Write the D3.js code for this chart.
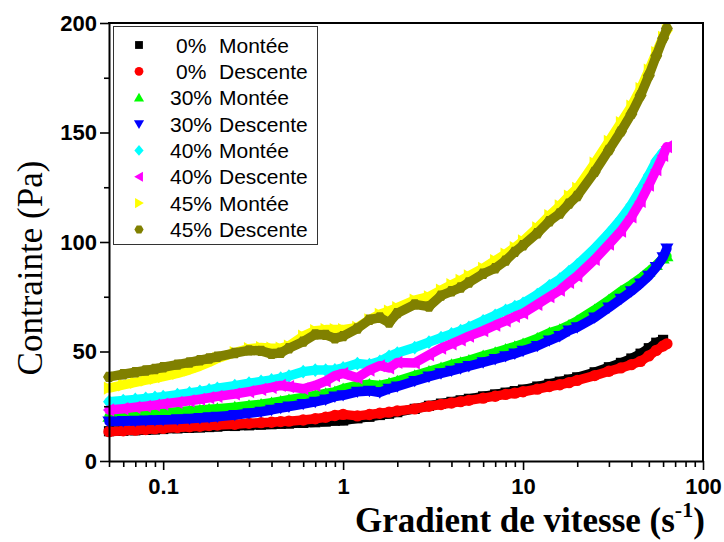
<!DOCTYPE html>
<html>
<head>
<meta charset="utf-8">
<script src="https://cdn.jsdelivr.net/npm/d3@7"></script>
<style>
  html, body { margin: 0; padding: 0; background: #ffffff; }
  svg { display: block; }
</style>
</head>
<body>
<svg id="chart" width="724" height="542"></svg>
<script>
// ---------------- DATA ----------------
// Gradient de vitesse (s-1)
const shear = [0.05,0.06,0.07,0.08,0.09,0.1,0.12,0.14,0.16,0.18,
  0.2,0.25,0.3,0.35,0.4,0.45, 0.5,0.6,0.7,0.8,0.9, 1,1.2,1.4,1.6,1.8,
  2,2.5,3,3.5,4,4.5, 5,6,7,8,9, 10,12,14,16,18, 20,25,30,35,40,45, 50,55,60,63];

// Contrainte (Pa)
const stress0Montee = [13.6,13.8,14.0,14.2,14.4,14.6,14.9,15.1,15.3,15.5,
  15.7,16.0,16.3,16.6,16.8,17.0, 17.1,17.4,17.7,18.0,18.4, 18.5,19.5,20.2,21.0,21.6,
  22.3,23.8,25.2,26.2,27.0,27.7, 28.4,29.5,30.4,31.2,31.9, 32.6,34.0,35.2,36.2,37.2,
  38.2,40.5,42.8,44.8,46.8,49.0, 51.5,54.0,55.3,null];
const stress0Descente = [13.4,13.8,14.1,14.4,14.7,14.9,15.3,15.6,15.9,16.2,
  16.4,16.8,17.2,17.5,17.7,18.0, 18.2,18.7,19.3,20.0,20.8, 21.3,20.6,21.2,21.8,22.3,
  22.8,23.8,25.0,25.8,26.5,27.1, 27.7,28.7,29.6,30.4,31.0, 31.6,32.8,34.0,34.8,35.8,
  36.8,39.0,41.0,42.5,44.0,45.5, 48.0,50.5,52.5,53.5];
const stress30Montee = [20.2,20.6,21.0,21.4,21.7,22.0,22.5,22.9,23.3,23.6,
  23.9,24.6,25.3,25.9,26.6,27.3, 28.0,29.0,30.0,30.8,31.6, 33.0,34.5,35.0,34.5,35.5,
  36.5,39.0,41.0,42.5,44.0,45.0, 46.0,48.0,49.5,51.0,52.3, 53.5,56.0,58.5,60.0,62.0,
  64.0,69.0,73.5,77.5,80.5,83.5, 86.5,89.5,92.5,93.5];
const stress30Descente = [18.0,18.2,18.3,18.5,18.6,18.7,19.0,19.3,19.6,19.9,
  20.2,21.0,21.8,22.5,23.3,24.2, 24.8,26.0,27.0,28.0,29.4, 30.0,31.6,32.0,31.3,33.0,
  34.0,36.5,38.5,40.0,41.2,42.3, 43.3,45.0,46.5,47.8,49.0, 50.3,52.5,55.0,57.0,59.5,
  61.0,65.5,70.0,74.0,77.5,81.0, 84.5,88.5,93.0,97.0];
const stress40Montee = [27.1,27.6,28.1,28.6,29.0,29.4,30.3,31.1,31.8,32.5,
  33.2,34.4,35.5,36.3,37.0,37.8, 38.8,40.8,41.5,41.5,41.6, 42.5,44.5,44.0,45.5,47.8,
  49.3,51.8,54.3,56.3,58.0,59.5, 61.0,64.0,66.5,68.8,70.5, 72.0,76.0,80.0,83.0,86.5,
  89.5,97.0,104.0,110.5,117.0,124.0, 130.5,137.0,141.0,null];
const stress40Descente = [23.3,23.9,24.5,25.0,25.5,26.0,26.8,27.5,28.2,28.9,
  29.5,30.6,31.7,32.7,33.6,34.5, 34.0,33.0,34.5,36.5,39.0, 40.0,38.0,41.5,43.5,42.5,
  45.0,44.8,48.5,51.5,53.5,55.3, 57.0,59.5,62.0,64.0,66.0, 67.5,71.5,75.0,78.0,81.5,
  84.5,92.0,99.0,105.0,111.5,118.5, 126.0,133.0,139.5,143.5];
const stress45Montee = [33.3,34.8,35.9,36.9,37.7,38.5,40.0,41.6,43.3,45.0,
  46.8,49.5,51.3,51.8,51.5,51.5, 52.5,57.0,59.5,60.0,60.0, 60.0,61.0,64.5,67.0,68.5,
  70.0,73.5,75.0,78.0,80.5,82.5, 84.5,88.0,91.5,94.5,97.5, 100.5,106.5,112.0,116.5,121.0,
  124.5,136.0,146.0,154.5,162.0,170.0, 178.5,186.5,193.5,196.5];
const stress45Descente = [38.4,39.6,40.5,41.3,42.0,42.8,44.0,45.0,46.0,46.8,
  47.6,49.3,50.5,50.3,48.9,49.4, 51.5,54.5,57.8,57.6,56.0, 57.0,60.5,64.5,65.5,63.2,
  67.5,71.5,70.5,75.5,77.5,79.2, 81.5,85.5,88.0,91.5,95.5, 98.5,104.0,109.5,113.0,117.5,
  121.0,132.0,142.0,150.5,158.5,167.0, 176.0,185.0,193.0,197.5];

const legendPct = ['0%', '0%', '30%', '30%', '40%', '40%', '45%', '45%'];
const legendMode = ['Montée', 'Descente', 'Montée', 'Descente', 'Montée', 'Descente', 'Montée', 'Descente'];
const xTickValues = [0.1, 1, 10, 100];
const xTickLabels = ['0.1', '1', '10', '100'];
const yTickValues = [0, 50, 100, 150, 200];
const yTickLabels = ['0', '50', '100', '150', '200'];
const yMinorTicks = [25, 75, 125, 175];
const xTitle = 'Gradient de vitesse (s';
const xTitleSup = '-1';
const yTitle = 'Contrainte (Pa)';

// ---------------- SETUP ----------------
const colors = ['#000000', '#ff0000', '#00ff00', '#0000ff', '#00ffff', '#ff00ff', '#ffff00', '#808000'];
const shapes = ['square', 'circle', 'up', 'down', 'diamond', 'left', 'right', 'hexagon'];
const allValues = [stress0Montee, stress0Descente, stress30Montee, stress30Descente,
                   stress40Montee, stress40Descente, stress45Montee, stress45Descente];
const series = allValues.map((vals, i) => ({
  pct: legendPct[i], mode: legendMode[i], color: colors[i], shape: shapes[i], values: vals
}));

const L = 109, R = 703, T = 23, B = 461;
const x = d3.scaleLog().domain([0.05, 100]).range([L, R]);
const y = d3.scaleLinear().domain([0, 200]).range([B, T]);

const SANS = '"Liberation Sans", Arial, Helvetica, sans-serif';
const SERIF = '"Liberation Serif", "Times New Roman", Times, serif';

function shapePath(shape, r) {
  const p = d3.path();
  switch (shape) {
    case 'square': p.rect(-r * 0.85, -r * 0.85, r * 1.7, r * 1.7); break;
    case 'circle': p.arc(0, 0, r * 0.95, 0, 2 * Math.PI); break;
    case 'up': p.moveTo(0, -r * 1.05); p.lineTo(r * 1.1, r * 0.85); p.lineTo(-r * 1.1, r * 0.85); p.closePath(); break;
    case 'down': p.moveTo(0, r * 1.05); p.lineTo(r * 1.1, -r * 0.85); p.lineTo(-r * 1.1, -r * 0.85); p.closePath(); break;
    case 'left': p.moveTo(-r * 1.05, 0); p.lineTo(r * 0.85, -r * 1.1); p.lineTo(r * 0.85, r * 1.1); p.closePath(); break;
    case 'right': p.moveTo(r * 1.05, 0); p.lineTo(-r * 0.85, -r * 1.1); p.lineTo(-r * 0.85, r * 1.1); p.closePath(); break;
    case 'diamond': p.moveTo(0, -r * 1.15); p.lineTo(r, 0); p.lineTo(0, r * 1.15); p.lineTo(-r, 0); p.closePath(); break;
    case 'hexagon':
      for (let k = 0; k < 6; k++) {
        const a = Math.PI / 3 * k;
        const px = Math.cos(a) * r, py = Math.sin(a) * r;
        if (k === 0) p.moveTo(px, py); else p.lineTo(px, py);
      }
      p.closePath(); break;
  }
  return p.toString();
}

const svg = d3.select('#chart');
svg.append('rect').attr('width', 724).attr('height', 542).attr('fill', '#ffffff');

// ---------------- SERIES ----------------
const plot = svg.append('g');
const line = d3.line().x(d => x(d[0])).y(d => y(d[1]));
series.forEach(s => {
  const pts = shear.map((v, i) => [v, s.values[i]]).filter(d => d[1] != null);
  const g = plot.append('g');
  g.append('path').datum(pts)
    .attr('d', line)
    .attr('fill', 'none')
    .attr('stroke', s.color)
    .attr('stroke-width', 9.5)
    .attr('stroke-linejoin', 'round')
    .attr('stroke-linecap', 'round');
  g.selectAll('path.m').data(pts).join('path')
    .attr('class', 'm')
    .attr('transform', d => `translate(${x(d[0])},${y(d[1])})`)
    .attr('d', shapePath(s.shape, 6))
    .attr('fill', s.color);
});

// ---------------- AXES ----------------
const axisStyle = g => {
  g.select('.domain').attr('stroke', '#000').attr('stroke-width', 2);
  g.selectAll('.tick line').attr('stroke', '#000').attr('stroke-width', 1.6);
  g.selectAll('.tick text').attr('fill', '#000')
    .style('font-family', SANS).style('font-size', '22px').style('font-weight', 'bold');
};

// y axis major
svg.append('g').attr('transform', `translate(${L},0)`)
  .call(d3.axisLeft(y).tickValues(yTickValues).tickFormat((d, i) => yTickLabels[i])
    .tickSize(9).tickSizeOuter(0).tickPadding(3))
  .call(axisStyle);
// y axis minor
svg.append('g').attr('transform', `translate(${L},0)`)
  .call(d3.axisLeft(y).tickValues(yMinorTicks).tickFormat('').tickSize(5).tickSizeOuter(0))
  .call(g => { g.select('.domain').remove(); g.selectAll('.tick line').attr('stroke', '#000').attr('stroke-width', 1.6); });

// x axis major
svg.append('g').attr('transform', `translate(0,${B})`)
  .call(d3.axisBottom(x).tickValues(xTickValues).tickFormat((d, i) => xTickLabels[i])
    .tickSize(9).tickSizeOuter(0).tickPadding(8))
  .call(axisStyle);
// x axis minor (library log ticks, excluding the decades)
const xMinor = x.ticks().filter(v => xTickValues.indexOf(v) < 0);
svg.append('g').attr('transform', `translate(0,${B})`)
  .call(d3.axisBottom(x).tickValues(xMinor).tickFormat('').tickSize(6).tickSizeOuter(0))
  .call(g => { g.select('.domain').remove(); g.selectAll('.tick line').attr('stroke', '#000').attr('stroke-width', 1.6); });

// frame top / right
svg.append('line').attr('x1', L - 1).attr('x2', R + 1).attr('y1', T).attr('y2', T)
  .attr('stroke', '#000').attr('stroke-width', 2);
svg.append('line').attr('x1', R).attr('x2', R).attr('y1', T).attr('y2', B)
  .attr('stroke', '#000').attr('stroke-width', 2);

// ---------------- TITLES ----------------
const xt = svg.append('text')
  .attr('x', 355).attr('y', 532)
  .style('font-family', SERIF).style('font-size', '35px').style('font-weight', 'bold')
  .attr('fill', '#000');
xt.append('tspan').text(xTitle);
xt.append('tspan').attr('dy', -15).style('font-size', '22px').text(xTitleSup);
xt.append('tspan').attr('dy', 15).text(')');

svg.append('text')
  .attr('transform', 'translate(42,268) rotate(-90)')
  .attr('text-anchor', 'middle')
  .style('font-family', SERIF).style('font-size', '35px')
  .attr('fill', '#000')
  .text(yTitle);

// ---------------- LEGEND ----------------
const lg = svg.append('g');
lg.append('rect').attr('x', 113.5).attr('y', 26.5).attr('width', 204).attr('height', 218)
  .attr('fill', '#ffffff').attr('stroke', '#333').attr('stroke-width', 1);
series.forEach((s, i) => {
  const cy = 45 + i * 26.35;
  lg.append('path').attr('transform', `translate(139,${cy})`)
    .attr('d', shapePath(s.shape, 4.6)).attr('fill', s.color);
  const t = lg.append('text').attr('y', cy + 7.5)
    .style('font-family', SANS).style('font-size', '21px').attr('fill', '#000');
  t.append('tspan').attr('x', s.pct.length < 3 ? 176 : 170).text(s.pct);
  t.append('tspan').attr('x', 219).text(s.mode);
});
</script>
</body>
</html>
